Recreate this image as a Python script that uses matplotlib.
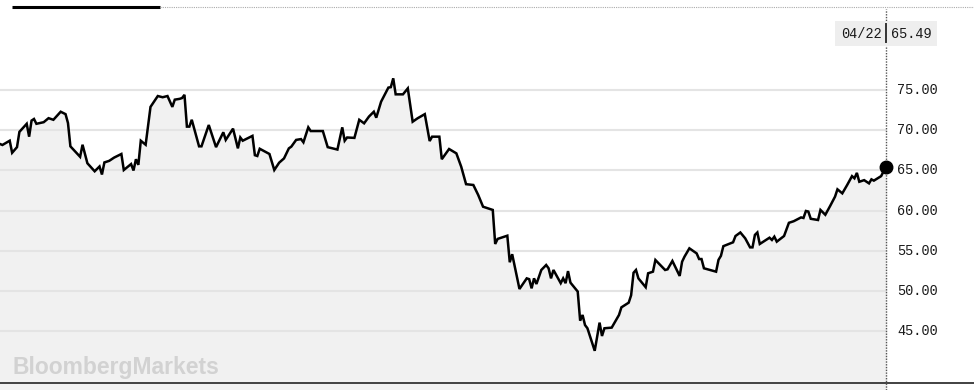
import pandas as pd
import matplotlib
matplotlib.use("Agg")
from matplotlib import pyplot as plt

# trading days since 2018-04-22 and closing price
days = [0, 1, 4, 5, 7, 8, 11, 12, 13, 14, 15, 18, 20, 22, 25, 27, 28, 29, 33, 34,
        36, 39, 41, 42, 43, 45, 47, 50, 51, 54, 55, 56, 57, 58, 60, 62, 65, 67, 69, 71,
        72, 74, 75, 76, 77, 78, 79, 82, 83, 86, 89, 92, 93, 96, 98, 99, 100, 104, 105, 106,
        107, 111, 113, 115, 117, 119, 120, 122, 124, 125, 127, 128, 133, 135, 139, 141, 142, 143, 146, 148,
        150, 152, 154, 155, 157, 160, 161, 162, 163, 166, 168, 170, 172, 175, 177, 178, 181, 182, 185, 188,
        190, 192, 195, 197, 199, 203, 204, 205, 209, 210, 211, 214, 217, 218, 219, 220, 221, 223, 225, 226,
        227, 228, 231, 232, 233, 234, 235, 238, 239, 240, 241, 242, 245, 247, 248, 249, 252, 255, 256, 259,
        260, 261, 262, 263, 266, 267, 269, 270, 274, 275, 277, 280, 281, 282, 284, 287, 288, 289, 290, 295,
        296, 297, 298, 302, 303, 305, 307, 309, 310, 311, 312, 313, 317, 318, 319, 320, 323, 325, 327, 330,
        331, 332, 333, 334, 337, 338, 340, 342, 344, 345, 347, 349, 351, 352, 353, 354, 356, 358, 359, 360,
        363, 365]
prices = [68.29, 68.17, 68.7, 67.2, 67.9, 69.8, 70.8, 69.2, 71.2, 71.4, 70.8, 71.0, 71.5, 71.3, 72.3, 72.0, 70.9, 68.0, 66.7, 68.2,
          65.9, 64.9, 65.5, 64.5, 66.0, 66.2, 66.6, 67.05, 65.06, 65.8, 65.0, 66.4, 65.7, 68.7, 68.2, 72.9, 74.25, 74.1, 74.25, 72.9,
          73.8, 73.9, 74.0, 74.4, 70.45, 70.45, 71.3, 68.0, 68.0, 70.65, 67.9, 69.75, 68.8, 70.2, 67.75, 69.1, 68.7, 69.3, 66.9, 66.8,
          67.7, 67.05, 65.06, 65.97, 66.5, 67.75, 67.96, 68.8, 68.9, 68.5, 70.36, 69.9, 69.9, 67.9, 67.6, 70.36, 68.7, 69.1, 69.05, 71.3,
          70.86, 71.7, 72.3, 71.56, 73.55, 75.3, 75.35, 76.45, 74.46, 74.46, 75.2, 71.06, 71.48, 72.0, 68.66, 69.2, 69.2, 66.4, 67.67, 67.13,
          65.47, 63.3, 63.2, 61.96, 60.5, 60.1, 55.87, 56.5, 56.9, 53.6, 54.6, 50.28, 51.6, 51.5, 50.36, 51.6, 50.9, 52.64, 53.26, 52.85,
          51.6, 52.64, 51.0, 51.6, 51.0, 52.5, 51.07, 49.96, 46.34, 47.05, 45.8, 45.4, 42.6, 46.1, 44.44, 45.4, 45.48, 47.05, 48.0, 48.58,
          49.5, 52.3, 52.64, 51.6, 50.5, 52.23, 52.43, 53.88, 52.64, 52.72, 53.76, 51.9, 53.67, 54.3, 55.33, 54.7, 54.0, 54.0, 52.85, 52.43,
          53.9, 54.4, 55.6, 56.08, 56.86, 57.3, 56.57, 55.45, 55.45, 57.0, 57.3, 55.87, 56.65, 56.37, 56.78, 56.16, 56.86, 58.5, 58.7, 59.17,
          59.1, 59.97, 59.9, 59.0, 58.85, 60.1, 59.5, 60.6, 61.75, 62.66, 62.16, 63.2, 64.3, 64.03, 64.7, 63.6, 63.8, 63.4, 63.9, 63.74,
          64.3, 65.49]
ticks = [45, 50, 55, 60, 65, 70, 75]
last_label = "04/22"

start = pd.Timestamp("2018-04-22")
dates = start + pd.to_timedelta(days, unit="D")
last_date = dates[-1]

fig = plt.figure(figsize=(9.74, 3.9), dpi=100)
ax = fig.add_axes([0, 0, 1, 1])
span = pd.Timedelta(days=days[-1] * 974 / 886)
ax.set_xlim(start, start + span)
ax.set_ylim(37.73, 86.18)
ax.axis("off")

mono = "Liberation Mono"

# grid lines + right labels
for t in ticks:
    ax.plot([start, last_date], [t, t], color="#e4e4e4", lw=1.5, zorder=1)
    ax.text(0.921, t, f"{t:.2f}", transform=ax.get_yaxis_transform(), va="center", ha="left",
            fontsize=9.8, family=mono, color="#1a1a1a")

ax.fill_between(dates, prices, 37.73, color="#f1f1f1", zorder=0)
ax.plot(dates, prices, color="black", lw=1.8, zorder=3, solid_joinstyle="miter")
ax.plot([last_date], [prices[-1]], "o", color="black", ms=9, zorder=4)

# bottom line
ax.axhline(38.6, color="#333333", lw=1.3, zorder=2)

# dotted vertical at last point
ax.plot([last_date, last_date], [37.73, 85.0], color="#555555", lw=1, ls=(0, (1, 1)), zorder=2)

# top bar
ax.plot([0.012, 0.164], [0.982, 0.982], transform=ax.transAxes, color="black", lw=2.2, solid_capstyle="butt")
ax.plot([0.164, 1.0], [0.982, 0.982], transform=ax.transAxes, color="#aaaaaa", lw=0.8, ls=(0, (1, 1)))

# last value label
ax.text(0.905, 0.914, last_label, transform=ax.transAxes, ha="right", va="center", fontsize=9.8,
        family=mono, color="#1a1a1a", bbox=dict(boxstyle="square,pad=0.4", fc="#eeeeee", ec="none"))
ax.text(0.915, 0.914, f"{prices[-1]:.2f}", transform=ax.transAxes, ha="left", va="center", fontsize=9.8,
        family=mono, color="#1a1a1a", bbox=dict(boxstyle="square,pad=0.4", fc="#eeeeee", ec="none"))
ax.plot([0.9097, 0.9097], [0.893, 0.938], transform=ax.transAxes, color="#333333", lw=1.4, zorder=5)

# watermark
ax.text(0.013, 0.058, "BloombergMarkets", transform=ax.transAxes, ha="left", va="center",
        fontsize=16.5, fontweight="bold", family="Liberation Sans", color="#d2d2d2")

fig.savefig("out.png", dpi=100)
